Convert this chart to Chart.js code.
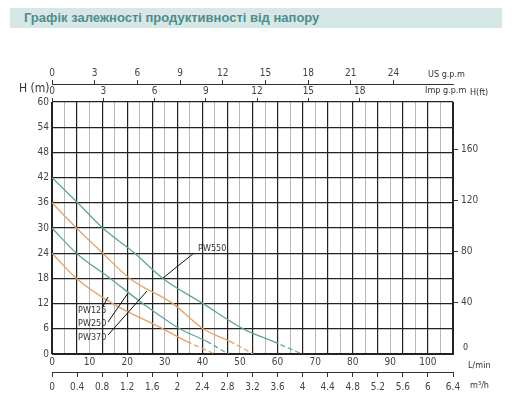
<!DOCTYPE html>
<html><head><meta charset="utf-8">
<script src="https://cdn.jsdelivr.net/npm/chart.js@4"></script>
<style>
html,body{margin:0;padding:0;background:#fff;width:512px;height:408px;overflow:hidden}
#t{position:absolute;left:10px;top:8px;width:492px;height:20px;background:#d5e7e7;color:#4f8d88;font:bold 13px "Liberation Sans",Arial,sans-serif;line-height:20px;padding-left:14px;box-sizing:border-box}
#w{position:absolute;left:0;top:0;width:512px;height:408px}
</style></head><body>
<div id="w"><canvas id="c" width="512" height="408"></canvas></div>
<div id="t">Графік залежності продуктивності від напору</div>
<script>
const flowM3h = { // m3/h values
  pw550:[0,0.41,0.81,1.32,1.77,2.41,3.05,3.53,3.99],
  pw370:[0,0.39,0.81,1.24,1.93,2.41,2.84,3.21],
  pw250:[0,0.39,0.93,1.45,2.04,2.47,2.81],
  pw125:[0,0.39,0.97,1.77,2.15,2.6]
};
const headPW550=[42,36,30,24,18,12,6,3,0];
const headPW370=[36,30,24,18,12,6,3,0];
const headPW250=[30,24,18,12,6,3,0];
const headPW125=[24,18,12,6,3,0];
const lminTicks=[0,10,20,30,40,50,60,70,80,90,100];
const ftTicks=[40,80,120,160];
const teal='#5ea69c', orange='#e2a465';
const F='"Liberation Sans Narrow","DejaVu Sans Condensed",sans-serif';
function pts(xs,ys){return xs.map((x,i)=>({x:x,y:ys[i]}));}
function ds(label,xs,ys,col){return{label,data:pts(xs,ys),borderColor:col,borderWidth:1.3,pointRadius:0,cubicInterpolationMode:'monotone',fill:false,
  segment:{borderDash:c=>c.p1.parsed.y===0?[5,3]:undefined}};}
const tickFont={family:F,size:10};
const grey='#444';
const extra={id:'extra',afterDraw(ch){
  const c=ch.ctx;
  c.save();c.fillStyle='#333';
  c.font='12px '+F;c.fillText('H (m)',19,92);
  c.font='9px '+F;
  c.fillText('US g.p.m',428,77);c.fillText('Imp g.p.m',425,93);c.fillText('H(ft)',470,95);
  c.fillText('L/min',468,368);c.fillText('m³/h',470,388);
  c.fillText('0',463,350);
  c.fillText('PW550',198,251);c.fillText('PW125',78,313);c.fillText('PW250',78,326);c.fillText('PW370',78,340);
  c.strokeStyle='#111';c.lineWidth=1;c.beginPath();
  [[163,278,194,253],[102,308,108,297],[108,322,128,293],[108,335,147,291]].forEach(l=>{c.moveTo(l[0],l[1]);c.lineTo(l[2],l[3]);});
  c.stroke();c.restore();}};
new Chart(document.getElementById('c'),{type:'line',
 data:{datasets:[ds('PW550',flowM3h.pw550,headPW550,teal),ds('PW370',flowM3h.pw370,headPW370,orange),ds('PW250',flowM3h.pw250,headPW250,teal),ds('PW125',flowM3h.pw125,headPW125,orange)]},
 options:{responsive:false,animation:false,layout:{padding:{top:62,left:0,right:0,bottom:0}},
  plugins:{legend:{display:false},tooltip:{enabled:false}},
  scales:{
   x:{type:'linear',min:0,max:6.4,position:'bottom',ticks:{display:false,stepSize:0.2},afterFit:s=>{s.height=0;},
      grid:{color:c=>Math.round(c.tick.value*10)%4===0?'#222':'#999',lineWidth:c=>Math.round(c.tick.value*10)%4===0?1.2:0.7,drawTicks:false},border:{color:'#222'}},
   xl:{type:'linear',min:0,max:6.4*1000/60,position:'bottom',afterBuildTicks:s=>{s.ticks=lminTicks.map(v=>({value:v}));},afterFit:s=>{s.height=18;},
      ticks:{font:tickFont,color:grey,padding:2},grid:{display:false,drawTicks:false},border:{display:false}},
   xm:{type:'linear',min:0,max:6.4,position:'bottom',afterBuildTicks:s=>{s.ticks=[];for(let i=0;i<=16;i++)s.ticks.push({value:i*0.4});},afterFit:s=>{s.height=36;},
      ticks:{font:tickFont,color:grey,callback:v=>String(+v.toFixed(1)),padding:4},grid:{drawOnChartArea:false,tickLength:5,color:'#333'},border:{color:'#333'}},
   xi:{type:'linear',min:0,max:6.4*3.6661,position:'top',afterBuildTicks:s=>{s.ticks=[];for(let i=0;i<=6;i++)s.ticks.push({value:i*3});},afterFit:s=>{s.height=18;},
      ticks:{font:tickFont,color:grey,padding:1},grid:{drawOnChartArea:false,tickLength:4,color:'#333'},border:{display:false}},
   xu:{type:'linear',min:0,max:6.4*4.4029,position:'top',afterBuildTicks:s=>{s.ticks=[];for(let i=0;i<=8;i++)s.ticks.push({value:i*3});},afterFit:s=>{s.height=22;},
      ticks:{font:tickFont,color:grey,padding:1},grid:{drawOnChartArea:false,tickLength:4,color:'#333'},border:{color:'#333'}},
   y:{type:'linear',min:0,max:60,position:'left',afterFit:s=>{s.width=52;},ticks:{stepSize:3,font:tickFont,color:grey,callback:v=>v%6===0?v:''},
      grid:{color:c=>c.tick.value%6===0?'#222':'#999',lineWidth:c=>c.tick.value%6===0?1.2:0.7,drawTicks:false},border:{color:'#222'}},
   yf:{type:'linear',min:0,max:60*3.28084,position:'right',afterFit:s=>{s.width=59;},afterBuildTicks:s=>{s.ticks=ftTicks.map(v=>({value:v}));},
      ticks:{font:tickFont,color:grey},grid:{drawOnChartArea:false,tickLength:5,color:'#333'},border:{color:'#222'}}
  }}, plugins:[extra]});
</script></body></html>
